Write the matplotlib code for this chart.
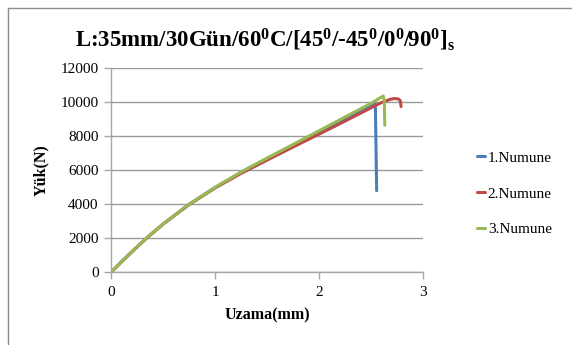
import matplotlib
matplotlib.use("Agg")
import matplotlib.pyplot as plt
from matplotlib.lines import Line2D

plt.rcParams['font.family'] = ['Liberation Serif', 'DejaVu Serif']
plt.rcParams['mathtext.fontset'] = 'custom'
plt.rcParams['mathtext.rm'] = 'Liberation Serif:bold'
plt.rcParams['mathtext.it'] = 'Liberation Serif:bold:italic'
plt.rcParams['mathtext.bf'] = 'Liberation Serif:bold'

# Load-displacement data for three specimens
x_1 = [0, 0.1, 0.2, 0.35, 0.5, 0.75, 1.0, 1.25, 1.5, 1.75, 2.0, 2.25, 2.45, 2.535, 2.54, 2.552]
y_1 = [0, 615, 1210, 2060, 2840, 4000, 4990, 5880, 6700, 7490, 8270, 9050, 9680, 9980, 9700, 4800]

x_2 = [0, 0.1, 0.2, 0.35, 0.5, 0.75, 1.0, 1.25, 1.5, 1.75, 2.0, 2.25, 2.5, 2.6, 2.68, 2.72, 2.76, 2.78, 2.786]
y_2 = [0, 605, 1200, 2050, 2830, 3980, 4960, 5820, 6600, 7370, 8130, 8900, 9680, 9990, 10170, 10220, 10200, 10090, 9750]

x_3 = [0, 0.1, 0.2, 0.35, 0.5, 0.75, 1.0, 1.25, 1.5, 1.75, 2.0, 2.25, 2.5, 2.615, 2.625, 2.63]
y_3 = [0, 610, 1210, 2060, 2840, 4000, 5000, 5900, 6720, 7520, 8330, 9140, 9950, 10370, 10100, 8650]

series_names = ['1.Numune', '2.Numune', '3.Numune']
colors = ['#4A7EBB', '#BE4B48', '#98B954']

x_ticks = [0, 1, 2, 3]
y_ticks = [0, 2000, 4000, 6000, 8000, 10000, 12000]

W, H = 572, 345
fig = plt.figure(figsize=(W / 100, H / 100), dpi=100)
fig.patch.set_facecolor('white')

# Outer chart frame (left and top edges visible)
fig.add_artist(Line2D([8 / W, 8 / W], [0, 1 - 7.5 / H], transform=fig.transFigure,
                      color='#8c8c8c', lw=1.0))
fig.add_artist(Line2D([8 / W, 1], [1 - 7.5 / H, 1 - 7.5 / H], transform=fig.transFigure,
                      color='#8c8c8c', lw=1.0))

ax = fig.add_axes([111 / W, 1 - 272.3 / H, (423.3 - 111) / W, (272.3 - 68.3) / H])

for xs, ys, c, name in zip([x_1, x_2, x_3], [y_1, y_2, y_3], colors, series_names):
    ax.plot(xs, ys, color=c, lw=2.2, label=name, solid_joinstyle='round', solid_capstyle='round')

ax.set_xlim(0, 3)
ax.set_ylim(0, 12000)
ax.set_xticks(x_ticks)
ax.set_yticks(y_ticks)
ax.set_xticklabels([str(t) for t in x_ticks], fontsize=11)
ax.set_yticklabels([str(t) for t in y_ticks], fontsize=11)
ax.grid(axis='y', color='#9a9a9a', lw=1.0)
ax.set_axisbelow(True)
for s in ['top', 'right']:
    ax.spines[s].set_visible(False)
for s in ['left', 'bottom']:
    ax.spines[s].set_color('#a6a6a6')
    ax.spines[s].set_linewidth(1.0)
ax.tick_params(axis='both', direction='out', length=5, color='#a6a6a6', width=1.0, pad=4)
ax.tick_params(axis='x', pad=5)

ax.set_xlabel('Uzama(mm)', fontsize=11.5, fontweight='bold', labelpad=6)
ax.set_ylabel('Yük(N)', fontsize=11.5, fontweight='bold', labelpad=8)

fig.text(265 / W, 1 - 47 / H,
         r'L:35mm/30Gün/60${}^{0}$C/[45${}^{0}$/-45${}^{0}$/0${}^{0}$/90${}^{0}$]${}_{\mathrm{s}}$',
         ha='center', va='baseline', fontsize=16.5, fontweight='bold')

leg = ax.legend(loc='upper left', bbox_to_anchor=(477 / W, 1 - 151 / H), bbox_transform=fig.transFigure,
                frameon=False, fontsize=11, handlelength=0.55, handletextpad=0.15,
                labelspacing=1.45, borderpad=0, borderaxespad=0)

fig.savefig('out.png', dpi=100, facecolor='white')
